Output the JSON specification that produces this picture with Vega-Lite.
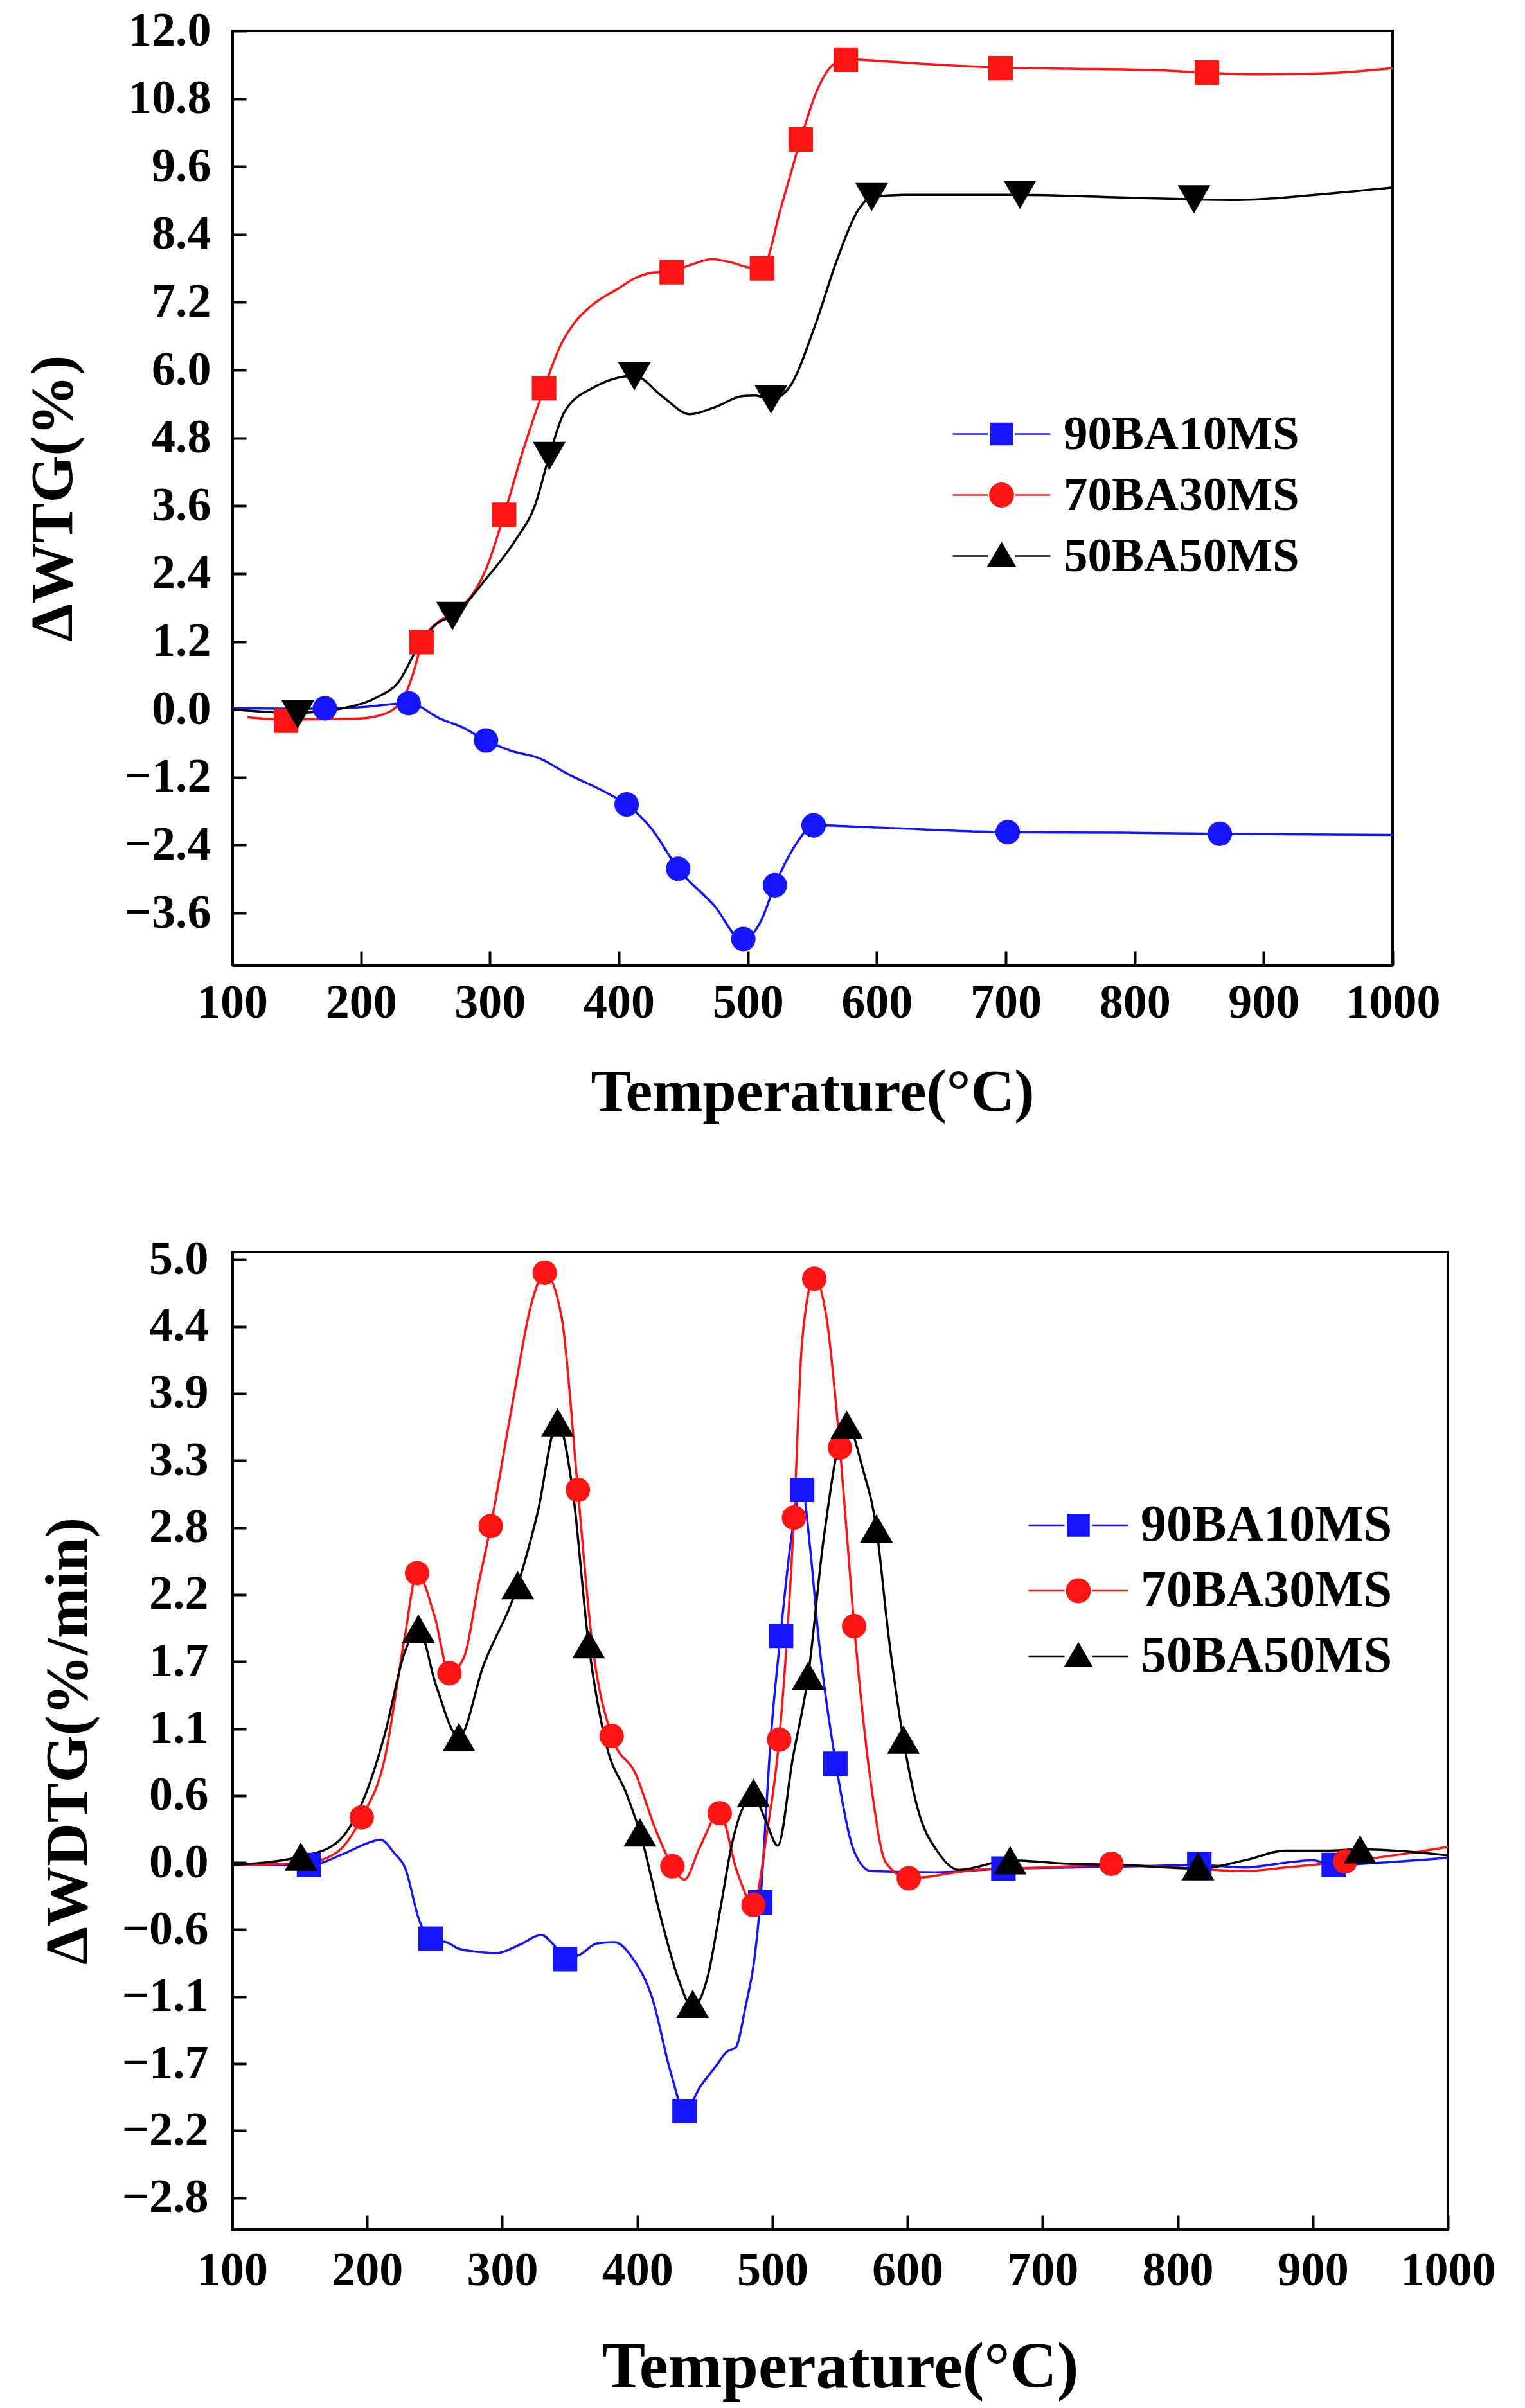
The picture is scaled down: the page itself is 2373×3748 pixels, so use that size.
{
  "$schema": "https://vega.github.io/schema/vega-lite/v6.json",
  "background": "white",
  "padding": {"left": 34, "top": 9, "right": 5, "bottom": 5},
  "spacing": 172,
  "datasets": {
    "tg_line": [
      {"T": 100, "v": 0.02, "s": "90BA10MS"}, {"T": 150, "v": 0.01, "s": "90BA10MS"}, {"T": 172, "v": 0.02, "s": "90BA10MS"},
      {"T": 200, "v": 0.04, "s": "90BA10MS"}, {"T": 237, "v": 0.11, "s": "90BA10MS"}, {"T": 262, "v": -0.17, "s": "90BA10MS"},
      {"T": 278, "v": -0.31, "s": "90BA10MS"}, {"T": 297, "v": -0.55, "s": "90BA10MS"}, {"T": 316, "v": -0.73, "s": "90BA10MS"},
      {"T": 338, "v": -0.86, "s": "90BA10MS"}, {"T": 361, "v": -1.15, "s": "90BA10MS"}, {"T": 391, "v": -1.48, "s": "90BA10MS"},
      {"T": 406, "v": -1.68, "s": "90BA10MS"}, {"T": 425, "v": -2.1, "s": "90BA10MS"}, {"T": 446, "v": -2.82, "s": "90BA10MS"},
      {"T": 474, "v": -3.47, "s": "90BA10MS"}, {"T": 496, "v": -4.08, "s": "90BA10MS"}, {"T": 510, "v": -3.75, "s": "90BA10MS"},
      {"T": 521, "v": -3.11, "s": "90BA10MS"}, {"T": 538, "v": -2.36, "s": "90BA10MS"}, {"T": 551, "v": -2.05, "s": "90BA10MS"},
      {"T": 602, "v": -2.09, "s": "90BA10MS"}, {"T": 700, "v": -2.17, "s": "90BA10MS"}, {"T": 790, "v": -2.18, "s": "90BA10MS"},
      {"T": 866, "v": -2.2, "s": "90BA10MS"}, {"T": 1000, "v": -2.22, "s": "90BA10MS"},

      {"T": 112, "v": -0.14, "s": "70BA30MS"}, {"T": 142, "v": -0.18, "s": "70BA30MS"}, {"T": 172, "v": -0.17, "s": "70BA30MS"},
      {"T": 200, "v": -0.16, "s": "70BA30MS"}, {"T": 212, "v": -0.12, "s": "70BA30MS"}, {"T": 225, "v": 0.0, "s": "70BA30MS"},
      {"T": 233, "v": 0.2, "s": "70BA30MS"}, {"T": 240, "v": 0.6, "s": "70BA30MS"}, {"T": 247, "v": 1.15, "s": "70BA30MS"},
      {"T": 260, "v": 1.55, "s": "70BA30MS"}, {"T": 271, "v": 1.68, "s": "70BA30MS"}, {"T": 280, "v": 1.85, "s": "70BA30MS"},
      {"T": 297, "v": 2.48, "s": "70BA30MS"}, {"T": 311, "v": 3.44, "s": "70BA30MS"}, {"T": 326, "v": 4.6, "s": "70BA30MS"},
      {"T": 342, "v": 5.68, "s": "70BA30MS"}, {"T": 355, "v": 6.45, "s": "70BA30MS"}, {"T": 366, "v": 6.85, "s": "70BA30MS"},
      {"T": 381, "v": 7.18, "s": "70BA30MS"}, {"T": 400, "v": 7.45, "s": "70BA30MS"}, {"T": 412, "v": 7.62, "s": "70BA30MS"},
      {"T": 425, "v": 7.72, "s": "70BA30MS"}, {"T": 441, "v": 7.75, "s": "70BA30MS"}, {"T": 458, "v": 7.88, "s": "70BA30MS"},
      {"T": 472, "v": 7.96, "s": "70BA30MS"}, {"T": 488, "v": 7.9, "s": "70BA30MS"}, {"T": 500, "v": 7.82, "s": "70BA30MS"},
      {"T": 511, "v": 7.8, "s": "70BA30MS"}, {"T": 526, "v": 8.9, "s": "70BA30MS"}, {"T": 541, "v": 10.08, "s": "70BA30MS"},
      {"T": 553, "v": 10.91, "s": "70BA30MS"}, {"T": 565, "v": 11.38, "s": "70BA30MS"}, {"T": 576, "v": 11.5, "s": "70BA30MS"},
      {"T": 600, "v": 11.47, "s": "70BA30MS"}, {"T": 633, "v": 11.42, "s": "70BA30MS"}, {"T": 696, "v": 11.35, "s": "70BA30MS"},
      {"T": 750, "v": 11.33, "s": "70BA30MS"}, {"T": 820, "v": 11.3, "s": "70BA30MS"}, {"T": 856, "v": 11.26, "s": "70BA30MS"},
      {"T": 896, "v": 11.23, "s": "70BA30MS"}, {"T": 957, "v": 11.26, "s": "70BA30MS"}, {"T": 1000, "v": 11.34, "s": "70BA30MS"},

      {"T": 100, "v": 0.0, "s": "50BA50MS"}, {"T": 151, "v": -0.06, "s": "50BA50MS"}, {"T": 172, "v": -0.03, "s": "50BA50MS"},
      {"T": 190, "v": 0.04, "s": "50BA50MS"}, {"T": 213, "v": 0.22, "s": "50BA50MS"}, {"T": 229, "v": 0.48, "s": "50BA50MS"},
      {"T": 244, "v": 1.09, "s": "50BA50MS"}, {"T": 259, "v": 1.52, "s": "50BA50MS"}, {"T": 271, "v": 1.65, "s": "50BA50MS"},
      {"T": 297, "v": 2.31, "s": "50BA50MS"}, {"T": 320, "v": 3.0, "s": "50BA50MS"}, {"T": 335, "v": 3.61, "s": "50BA50MS"},
      {"T": 346, "v": 4.48, "s": "50BA50MS"}, {"T": 358, "v": 5.27, "s": "50BA50MS"}, {"T": 381, "v": 5.7, "s": "50BA50MS"},
      {"T": 412, "v": 5.9, "s": "50BA50MS"}, {"T": 434, "v": 5.53, "s": "50BA50MS"}, {"T": 455, "v": 5.22, "s": "50BA50MS"},
      {"T": 475, "v": 5.35, "s": "50BA50MS"}, {"T": 496, "v": 5.54, "s": "50BA50MS"}, {"T": 506, "v": 5.55, "s": "50BA50MS"},
      {"T": 518, "v": 5.48, "s": "50BA50MS"}, {"T": 532, "v": 5.69, "s": "50BA50MS"}, {"T": 552, "v": 6.78, "s": "50BA50MS"},
      {"T": 569, "v": 7.94, "s": "50BA50MS"}, {"T": 585, "v": 8.81, "s": "50BA50MS"}, {"T": 596, "v": 9.06, "s": "50BA50MS"},
      {"T": 620, "v": 9.1, "s": "50BA50MS"}, {"T": 711, "v": 9.1, "s": "50BA50MS"}, {"T": 780, "v": 9.06, "s": "50BA50MS"},
      {"T": 846, "v": 9.02, "s": "50BA50MS"}, {"T": 880, "v": 9.01, "s": "50BA50MS"}, {"T": 940, "v": 9.1, "s": "50BA50MS"},
      {"T": 1000, "v": 9.23, "s": "50BA50MS"}
    ],
    "tg_pts": [
      {"T": 172, "v": 0.02, "s": "90BA10MS", "mk": "circle"}, {"T": 237, "v": 0.11, "s": "90BA10MS", "mk": "circle"},
      {"T": 297, "v": -0.55, "s": "90BA10MS", "mk": "circle"}, {"T": 406, "v": -1.68, "s": "90BA10MS", "mk": "circle"},
      {"T": 446, "v": -2.82, "s": "90BA10MS", "mk": "circle"}, {"T": 496.5, "v": -4.06, "s": "90BA10MS", "mk": "circle"},
      {"T": 521, "v": -3.11, "s": "90BA10MS", "mk": "circle"}, {"T": 551, "v": -2.05, "s": "90BA10MS", "mk": "circle"},
      {"T": 701.5, "v": -2.17, "s": "90BA10MS", "mk": "circle"}, {"T": 866, "v": -2.2, "s": "90BA10MS", "mk": "circle"},
      {"T": 142, "v": -0.2, "s": "70BA30MS", "mk": "square"}, {"T": 247, "v": 1.19, "s": "70BA30MS", "mk": "square"},
      {"T": 311, "v": 3.44, "s": "70BA30MS", "mk": "square"}, {"T": 342, "v": 5.68, "s": "70BA30MS", "mk": "square"},
      {"T": 441, "v": 7.73, "s": "70BA30MS", "mk": "square"}, {"T": 511, "v": 7.8, "s": "70BA30MS", "mk": "square"},
      {"T": 541, "v": 10.08, "s": "70BA30MS", "mk": "square"}, {"T": 576, "v": 11.49, "s": "70BA30MS", "mk": "square"},
      {"T": 696, "v": 11.34, "s": "70BA30MS", "mk": "square"}, {"T": 856, "v": 11.26, "s": "70BA30MS", "mk": "square"},
      {"T": 151, "v": -0.09, "s": "50BA50MS", "mk": "triangle-down"}, {"T": 271, "v": 1.65, "s": "50BA50MS", "mk": "triangle-down"},
      {"T": 346, "v": 4.48, "s": "50BA50MS", "mk": "triangle-down"}, {"T": 412, "v": 5.89, "s": "50BA50MS", "mk": "triangle-down"},
      {"T": 518, "v": 5.48, "s": "50BA50MS", "mk": "triangle-down"}, {"T": 596, "v": 9.06, "s": "50BA50MS", "mk": "triangle-down"},
      {"T": 711, "v": 9.1, "s": "50BA50MS", "mk": "triangle-down"}, {"T": 846, "v": 9.02, "s": "50BA50MS", "mk": "triangle-down"}
    ],
    "dtg_line": [
      {"T": 100, "v": -0.02, "s": "90BA10MS"}, {"T": 157, "v": -0.02, "s": "90BA10MS"}, {"T": 184, "v": 0.08, "s": "90BA10MS"},
      {"T": 200, "v": 0.16, "s": "90BA10MS"}, {"T": 210, "v": 0.19, "s": "90BA10MS"}, {"T": 220, "v": 0.08, "s": "90BA10MS"},
      {"T": 228, "v": -0.04, "s": "90BA10MS"}, {"T": 239, "v": -0.49, "s": "90BA10MS"}, {"T": 247, "v": -0.63, "s": "90BA10MS"},
      {"T": 261, "v": -0.67, "s": "90BA10MS"}, {"T": 267, "v": -0.71, "s": "90BA10MS"}, {"T": 282, "v": -0.74, "s": "90BA10MS"},
      {"T": 296, "v": -0.75, "s": "90BA10MS"}, {"T": 313, "v": -0.68, "s": "90BA10MS"}, {"T": 329, "v": -0.6, "s": "90BA10MS"},
      {"T": 338, "v": -0.68, "s": "90BA10MS"}, {"T": 347, "v": -0.8, "s": "90BA10MS"}, {"T": 358, "v": -0.76, "s": "90BA10MS"},
      {"T": 370, "v": -0.67, "s": "90BA10MS"}, {"T": 383, "v": -0.66, "s": "90BA10MS"}, {"T": 397, "v": -0.8, "s": "90BA10MS"},
      {"T": 411, "v": -1.12, "s": "90BA10MS"}, {"T": 425, "v": -1.75, "s": "90BA10MS"}, {"T": 435, "v": -2.06, "s": "90BA10MS"},
      {"T": 447, "v": -1.85, "s": "90BA10MS"}, {"T": 458, "v": -1.69, "s": "90BA10MS"}, {"T": 466, "v": -1.57, "s": "90BA10MS"},
      {"T": 473, "v": -1.53, "s": "90BA10MS"}, {"T": 480, "v": -1.2, "s": "90BA10MS"}, {"T": 487, "v": -0.77, "s": "90BA10MS"},
      {"T": 491, "v": -0.33, "s": "90BA10MS"}, {"T": 499, "v": 1.06, "s": "90BA10MS"}, {"T": 506, "v": 1.88, "s": "90BA10MS"},
      {"T": 515, "v": 2.77, "s": "90BA10MS"}, {"T": 522, "v": 3.1, "s": "90BA10MS"}, {"T": 528, "v": 2.6, "s": "90BA10MS"},
      {"T": 534, "v": 1.88, "s": "90BA10MS"}, {"T": 547, "v": 0.82, "s": "90BA10MS"}, {"T": 561, "v": 0.08, "s": "90BA10MS"},
      {"T": 573, "v": -0.07, "s": "90BA10MS"}, {"T": 620, "v": -0.08, "s": "90BA10MS"}, {"T": 671, "v": -0.05, "s": "90BA10MS"},
      {"T": 720, "v": -0.04, "s": "90BA10MS"}, {"T": 770, "v": -0.03, "s": "90BA10MS"}, {"T": 816, "v": -0.02, "s": "90BA10MS"},
      {"T": 850, "v": -0.04, "s": "90BA10MS"}, {"T": 880, "v": 0.0, "s": "90BA10MS"}, {"T": 900, "v": 0.02, "s": "90BA10MS"},
      {"T": 916, "v": -0.02, "s": "90BA10MS"}, {"T": 950, "v": 0.0, "s": "90BA10MS"}, {"T": 1000, "v": 0.04, "s": "90BA10MS"},

      {"T": 100, "v": -0.02, "s": "70BA30MS"}, {"T": 155, "v": 0.0, "s": "70BA30MS"}, {"T": 177, "v": 0.08, "s": "70BA30MS"},
      {"T": 196, "v": 0.375, "s": "70BA30MS"}, {"T": 213, "v": 0.86, "s": "70BA30MS"}, {"T": 228, "v": 1.88, "s": "70BA30MS"},
      {"T": 237, "v": 2.4, "s": "70BA30MS"}, {"T": 250, "v": 2.04, "s": "70BA30MS"}, {"T": 261, "v": 1.57, "s": "70BA30MS"},
      {"T": 272, "v": 1.71, "s": "70BA30MS"}, {"T": 282, "v": 2.28, "s": "70BA30MS"}, {"T": 291.5, "v": 2.79, "s": "70BA30MS"},
      {"T": 308, "v": 3.83, "s": "70BA30MS"}, {"T": 322, "v": 4.65, "s": "70BA30MS"}, {"T": 331.5, "v": 4.89, "s": "70BA30MS"},
      {"T": 344, "v": 4.52, "s": "70BA30MS"}, {"T": 356, "v": 3.09, "s": "70BA30MS"}, {"T": 366, "v": 1.88, "s": "70BA30MS"},
      {"T": 381, "v": 1.05, "s": "70BA30MS"}, {"T": 399, "v": 0.73, "s": "70BA30MS"}, {"T": 413, "v": 0.29, "s": "70BA30MS"},
      {"T": 426, "v": -0.03, "s": "70BA30MS"}, {"T": 435, "v": -0.14, "s": "70BA30MS"}, {"T": 446, "v": 0.12, "s": "70BA30MS"},
      {"T": 461, "v": 0.41, "s": "70BA30MS"}, {"T": 474, "v": -0.08, "s": "70BA30MS"}, {"T": 486, "v": -0.35, "s": "70BA30MS"},
      {"T": 496, "v": 0.25, "s": "70BA30MS"}, {"T": 505, "v": 1.02, "s": "70BA30MS"}, {"T": 516, "v": 2.86, "s": "70BA30MS"},
      {"T": 522, "v": 4.32, "s": "70BA30MS"}, {"T": 531, "v": 4.85, "s": "70BA30MS"}, {"T": 540, "v": 4.52, "s": "70BA30MS"},
      {"T": 550, "v": 3.44, "s": "70BA30MS"}, {"T": 560.5, "v": 1.96, "s": "70BA30MS"}, {"T": 573, "v": 0.65, "s": "70BA30MS"},
      {"T": 584, "v": 0.0, "s": "70BA30MS"}, {"T": 601, "v": -0.13, "s": "70BA30MS"}, {"T": 650, "v": -0.06, "s": "70BA30MS"},
      {"T": 700, "v": -0.04, "s": "70BA30MS"}, {"T": 750, "v": -0.02, "s": "70BA30MS"}, {"T": 800, "v": -0.04, "s": "70BA30MS"},
      {"T": 850, "v": -0.07, "s": "70BA30MS"}, {"T": 880, "v": -0.04, "s": "70BA30MS"}, {"T": 925, "v": 0.01, "s": "70BA30MS"},
      {"T": 960, "v": 0.06, "s": "70BA30MS"}, {"T": 1000, "v": 0.13, "s": "70BA30MS"},

      {"T": 100, "v": -0.02, "s": "50BA50MS"}, {"T": 151, "v": 0.05, "s": "50BA50MS"}, {"T": 177, "v": 0.16, "s": "50BA50MS"},
      {"T": 199, "v": 0.57, "s": "50BA50MS"}, {"T": 213, "v": 1.06, "s": "50BA50MS"}, {"T": 228, "v": 1.75, "s": "50BA50MS"},
      {"T": 238, "v": 1.94, "s": "50BA50MS"}, {"T": 251, "v": 1.47, "s": "50BA50MS"}, {"T": 268, "v": 1.04, "s": "50BA50MS"},
      {"T": 286, "v": 1.63, "s": "50BA50MS"}, {"T": 311.5, "v": 2.3, "s": "50BA50MS"}, {"T": 326, "v": 2.89, "s": "50BA50MS"},
      {"T": 341, "v": 3.65, "s": "50BA50MS"}, {"T": 352, "v": 3.1, "s": "50BA50MS"}, {"T": 364, "v": 1.81, "s": "50BA50MS"},
      {"T": 377, "v": 0.98, "s": "50BA50MS"}, {"T": 392, "v": 0.57, "s": "50BA50MS"}, {"T": 402, "v": 0.25, "s": "50BA50MS"},
      {"T": 418, "v": -0.48, "s": "50BA50MS"}, {"T": 430, "v": -0.95, "s": "50BA50MS"}, {"T": 441, "v": -1.2, "s": "50BA50MS"},
      {"T": 452, "v": -0.95, "s": "50BA50MS"}, {"T": 462, "v": -0.35, "s": "50BA50MS"}, {"T": 470, "v": 0.15, "s": "50BA50MS"},
      {"T": 478, "v": 0.45, "s": "50BA50MS"}, {"T": 486, "v": 0.55, "s": "50BA50MS"}, {"T": 495, "v": 0.35, "s": "50BA50MS"},
      {"T": 504, "v": 0.14, "s": "50BA50MS"}, {"T": 515, "v": 0.86, "s": "50BA50MS"}, {"T": 526.5, "v": 1.55, "s": "50BA50MS"},
      {"T": 538, "v": 2.69, "s": "50BA50MS"}, {"T": 555, "v": 3.63, "s": "50BA50MS"}, {"T": 567, "v": 3.26, "s": "50BA50MS"},
      {"T": 577, "v": 2.77, "s": "50BA50MS"}, {"T": 586, "v": 1.88, "s": "50BA50MS"}, {"T": 597, "v": 1.02, "s": "50BA50MS"},
      {"T": 607.5, "v": 0.45, "s": "50BA50MS"}, {"T": 623, "v": 0.08, "s": "50BA50MS"}, {"T": 638, "v": -0.06, "s": "50BA50MS"},
      {"T": 676, "v": 0.02, "s": "50BA50MS"}, {"T": 720, "v": -0.01, "s": "50BA50MS"}, {"T": 760, "v": -0.02, "s": "50BA50MS"},
      {"T": 815, "v": -0.05, "s": "50BA50MS"}, {"T": 850, "v": 0.02, "s": "50BA50MS"}, {"T": 880, "v": 0.1, "s": "50BA50MS"},
      {"T": 910, "v": 0.1, "s": "50BA50MS"}, {"T": 935, "v": 0.11, "s": "50BA50MS"}, {"T": 1000, "v": 0.06, "s": "50BA50MS"}
    ],
    "dtg_pts": [
      {"T": 157, "v": -0.02, "s": "90BA10MS", "mk": "square"}, {"T": 247, "v": -0.63, "s": "90BA10MS", "mk": "square"},
      {"T": 346.5, "v": -0.8, "s": "90BA10MS", "mk": "square"}, {"T": 435, "v": -2.06, "s": "90BA10MS", "mk": "square"},
      {"T": 491, "v": -0.33, "s": "90BA10MS", "mk": "square"}, {"T": 506.4, "v": 1.88, "s": "90BA10MS", "mk": "square"},
      {"T": 522, "v": 3.09, "s": "90BA10MS", "mk": "square"}, {"T": 546.6, "v": 0.82, "s": "90BA10MS", "mk": "square"},
      {"T": 671, "v": -0.05, "s": "90BA10MS", "mk": "square"}, {"T": 816, "v": -0.01, "s": "90BA10MS", "mk": "square"},
      {"T": 915.5, "v": -0.02, "s": "90BA10MS", "mk": "square"},
      {"T": 196, "v": 0.375, "s": "70BA30MS", "mk": "circle"}, {"T": 237, "v": 2.4, "s": "70BA30MS", "mk": "circle"},
      {"T": 261, "v": 1.57, "s": "70BA30MS", "mk": "circle"}, {"T": 291.5, "v": 2.79, "s": "70BA30MS", "mk": "circle"},
      {"T": 331.5, "v": 4.89, "s": "70BA30MS", "mk": "circle"}, {"T": 356, "v": 3.09, "s": "70BA30MS", "mk": "circle"},
      {"T": 381, "v": 1.05, "s": "70BA30MS", "mk": "circle"}, {"T": 426, "v": -0.03, "s": "70BA30MS", "mk": "circle"},
      {"T": 461, "v": 0.41, "s": "70BA30MS", "mk": "circle"}, {"T": 486, "v": -0.35, "s": "70BA30MS", "mk": "circle"},
      {"T": 505, "v": 1.02, "s": "70BA30MS", "mk": "circle"}, {"T": 516, "v": 2.86, "s": "70BA30MS", "mk": "circle"},
      {"T": 531, "v": 4.84, "s": "70BA30MS", "mk": "circle"}, {"T": 550, "v": 3.44, "s": "70BA30MS", "mk": "circle"},
      {"T": 560.5, "v": 1.96, "s": "70BA30MS", "mk": "circle"}, {"T": 601, "v": -0.13, "s": "70BA30MS", "mk": "circle"},
      {"T": 751, "v": -0.01, "s": "70BA30MS", "mk": "circle"}, {"T": 924, "v": 0.01, "s": "70BA30MS", "mk": "circle"},
      {"T": 151, "v": 0.05, "s": "50BA50MS", "mk": "triangle-up"}, {"T": 238, "v": 1.94, "s": "50BA50MS", "mk": "triangle-up"},
      {"T": 268, "v": 1.04, "s": "50BA50MS", "mk": "triangle-up"}, {"T": 311.5, "v": 2.3, "s": "50BA50MS", "mk": "triangle-up"},
      {"T": 341, "v": 3.65, "s": "50BA50MS", "mk": "triangle-up"}, {"T": 364, "v": 1.81, "s": "50BA50MS", "mk": "triangle-up"},
      {"T": 402, "v": 0.25, "s": "50BA50MS", "mk": "triangle-up"}, {"T": 441, "v": -1.17, "s": "50BA50MS", "mk": "triangle-up"},
      {"T": 486, "v": 0.58, "s": "50BA50MS", "mk": "triangle-up"}, {"T": 526.5, "v": 1.55, "s": "50BA50MS", "mk": "triangle-up"},
      {"T": 555, "v": 3.63, "s": "50BA50MS", "mk": "triangle-up"}, {"T": 577, "v": 2.77, "s": "50BA50MS", "mk": "triangle-up"},
      {"T": 597, "v": 1.02, "s": "50BA50MS", "mk": "triangle-up"}, {"T": 676, "v": 0.02, "s": "50BA50MS", "mk": "triangle-up"},
      {"T": 815, "v": -0.03, "s": "50BA50MS", "mk": "triangle-up"}, {"T": 935, "v": 0.11, "s": "50BA50MS", "mk": "triangle-up"}
    ]
  },
  "vconcat": [
    {
      "width": 1806,
      "height": 1454,
      "layer": [
        {
          "data": {"name": "tg_pts"},
          "mark": {"type": "point", "filled": true, "opacity": 0},
          "encoding": {
            "x": {
              "field": "T", "type": "quantitative",
              "scale": {"domain": [100, 1000], "nice": false},
              "axis": {"title": "Temperature(°C)", "values": [100, 200, 300, 400, 500, 600, 700, 800, 900, 1000], "format": "d", "labelPadding": 45, "titlePadding": 56, "titleFontSize": 94}
            },
            "y": {
              "field": "v", "type": "quantitative",
              "scale": {"domain": [-4.52, 12], "nice": false, "zero": false},
              "axis": {"title": "ΔWTG(%)", "values": [-3.6, -2.4, -1.2, 0, 1.2, 2.4, 3.6, 4.8, 6, 7.2, 8.4, 9.6, 10.8, 12], "format": ".1f", "labelPadding": 55, "titlePadding": 62, "titleFontSize": 94}
            },
            "color": {
              "field": "s", "type": "nominal",
              "scale": {"domain": ["90BA10MS", "70BA30MS", "50BA50MS"], "range": ["#1414ff", "#ff1414", "#000000"]},
              "legend": {"orient": "none", "legendX": 1160, "legendY": 590, "title": null, "labelOffset": 59, "rowPadding": 19, "labelFontSize": 75, "symbolSize": 1089, "symbolOpacity": 1, "symbolStrokeWidth": 2.5, "padding": 0,
                "encode": {"symbols": {"update": {"opacity": {"value": 1}, "stroke": [{"test": "datum.value === '90BA10MS'", "value": "#1414ff"}, {"test": "datum.value === '70BA30MS'", "value": "#ff1414"}, {"value": "#000000"}]}}}}
            },
            "shape": {
              "field": "s", "type": "nominal",
              "scale": {"domain": ["90BA10MS", "70BA30MS", "50BA50MS"], "range": ["M-4.6,0H-1.3M1.3,0H4.6M-1,-1H1V1H-1Z", "M-4.6,0H-1.3M1.3,0H4.6M-1.1,0A1.1,1.1 0 1,1 1.1,0A1.1,1.1 0 1,1 -1.1,0Z", "M-4.6,0H-1.3M1.3,0H4.6M0,-1.2L1.25,0.95H-1.25Z"]},
              "legend": {"orient": "none", "legendX": 1160, "legendY": 590, "title": null, "labelOffset": 59, "rowPadding": 19, "labelFontSize": 75, "symbolSize": 1089, "symbolOpacity": 1, "symbolStrokeWidth": 2.5, "padding": 0,
                "encode": {"symbols": {"update": {"opacity": {"value": 1}, "stroke": [{"test": "datum.value === '90BA10MS'", "value": "#1414ff"}, {"test": "datum.value === '70BA30MS'", "value": "#ff1414"}, {"value": "#000000"}]}}}}
            },
            "size": {"value": 1089}
          }
        },
        {
          "data": {"name": "tg_line"},
          "mark": {"type": "line", "interpolate": "monotone", "strokeWidth": 3.5},
          "encoding": {
            "x": {"field": "T", "type": "quantitative"},
            "y": {"field": "v", "type": "quantitative"},
            "color": {"field": "s", "type": "nominal", "legend": null}
          }
        },
        {
          "data": {"name": "tg_pts"},
          "mark": {"type": "point", "filled": true, "opacity": 1},
          "encoding": {
            "x": {"field": "T", "type": "quantitative"},
            "y": {"field": "v", "type": "quantitative"},
            "color": {"field": "s", "type": "nominal", "legend": null},
            "shape": {"field": "mk", "type": "nominal", "scale": null},
            "size": {"condition": {"test": "datum.mk === 'triangle-down'", "value": 2600}, "value": 1450}
          }
        }
      ]
    },
    {
      "width": 1892,
      "height": 1521,
      "layer": [
        {
          "data": {"name": "dtg_pts"},
          "mark": {"type": "point", "filled": true, "opacity": 0},
          "encoding": {
            "x": {
              "field": "T", "type": "quantitative",
              "scale": {"domain": [100, 1000], "nice": false},
              "axis": {"title": "Temperature(°C)", "values": [100, 200, 300, 400, 500, 600, 700, 800, 900, 1000], "format": "d", "labelPadding": 50, "titlePadding": 64, "titleFontSize": 101}
            },
            "y": {
              "field": "v", "type": "quantitative",
              "scale": {"domain": [-3.04, 5.06], "nice": false, "zero": false},
              "axis": {"title": "ΔWDTG(%/min)", "values": [-2.7778, -2.2222, -1.6667, -1.1111, -0.5556, 0, 0.5556, 1.1111, 1.6667, 2.2222, 2.7778, 3.3333, 3.8889, 4.4444, 5], "format": ".1f", "labelPadding": 59, "titlePadding": 35, "titleFontSize": 94}
            },
            "color": {
              "field": "s", "type": "nominal",
              "scale": {"domain": ["90BA10MS", "70BA30MS", "50BA50MS"], "range": ["#1414ff", "#ff1414", "#000000"]},
              "legend": {"orient": "none", "legendX": 1277, "legendY": 385, "title": null, "labelOffset": 57, "rowPadding": 22, "labelFontSize": 80, "symbolSize": 1089, "symbolOpacity": 1, "symbolStrokeWidth": 2.5, "padding": 0,
                "encode": {"symbols": {"update": {"opacity": {"value": 1}, "stroke": [{"test": "datum.value === '90BA10MS'", "value": "#1414ff"}, {"test": "datum.value === '70BA30MS'", "value": "#ff1414"}, {"value": "#000000"}]}}}}
            },
            "shape": {
              "field": "s", "type": "nominal",
              "scale": {"domain": ["90BA10MS", "70BA30MS", "50BA50MS"], "range": ["M-4.7,0H-1.3M1.3,0H4.7M-1,-1H1V1H-1Z", "M-4.7,0H-1.3M1.3,0H4.7M-1.1,0A1.1,1.1 0 1,1 1.1,0A1.1,1.1 0 1,1 -1.1,0Z", "M-4.7,0H-1.3M1.3,0H4.7M0,-1.2L1.25,0.95H-1.25Z"]},
              "legend": {"orient": "none", "legendX": 1277, "legendY": 385, "title": null, "labelOffset": 57, "rowPadding": 22, "labelFontSize": 80, "symbolSize": 1089, "symbolOpacity": 1, "symbolStrokeWidth": 2.5, "padding": 0,
                "encode": {"symbols": {"update": {"opacity": {"value": 1}, "stroke": [{"test": "datum.value === '90BA10MS'", "value": "#1414ff"}, {"test": "datum.value === '70BA30MS'", "value": "#ff1414"}, {"value": "#000000"}]}}}}
            },
            "size": {"value": 1089}
          }
        },
        {
          "data": {"name": "dtg_line"},
          "mark": {"type": "line", "interpolate": "monotone", "strokeWidth": 3.5},
          "encoding": {
            "x": {"field": "T", "type": "quantitative"},
            "y": {"field": "v", "type": "quantitative"},
            "color": {"field": "s", "type": "nominal", "legend": null}
          }
        },
        {
          "data": {"name": "dtg_pts"},
          "mark": {"type": "point", "filled": true, "opacity": 1},
          "encoding": {
            "x": {"field": "T", "type": "quantitative"},
            "y": {"field": "v", "type": "quantitative"},
            "color": {"field": "s", "type": "nominal", "legend": null},
            "shape": {"field": "mk", "type": "nominal", "scale": null},
            "size": {"condition": {"test": "datum.mk === 'triangle-up'", "value": 2600}, "value": 1450}
          }
        }
      ]
    }
  ],
  "resolve": {
    "scale": {"x": "independent", "y": "independent", "color": "independent", "shape": "independent"},
    "legend": {"color": "independent", "shape": "independent"},
    "axis": {"x": "independent", "y": "independent"}
  },
  "config": {
    "font": "Liberation Serif",
    "view": {"stroke": "#000000", "strokeWidth": 4},
    "axis": {
      "labelFont": "Liberation Serif", "labelFontWeight": "bold", "labelFontSize": 74, "labelColor": "#000000",
      "titleFont": "Liberation Serif", "titleFontWeight": "bold", "titleColor": "#000000",
      "domainColor": "#000000", "domainWidth": 5, "tickColor": "#000000", "tickWidth": 4, "tickSize": -22,
      "grid": false, "labelFlush": false, "labelOverlap": false
    },
    "legend": {
      "labelFont": "Liberation Serif", "labelFontWeight": "bold", "labelColor": "#000000", "labelLimit": 0
    }
  }
}
